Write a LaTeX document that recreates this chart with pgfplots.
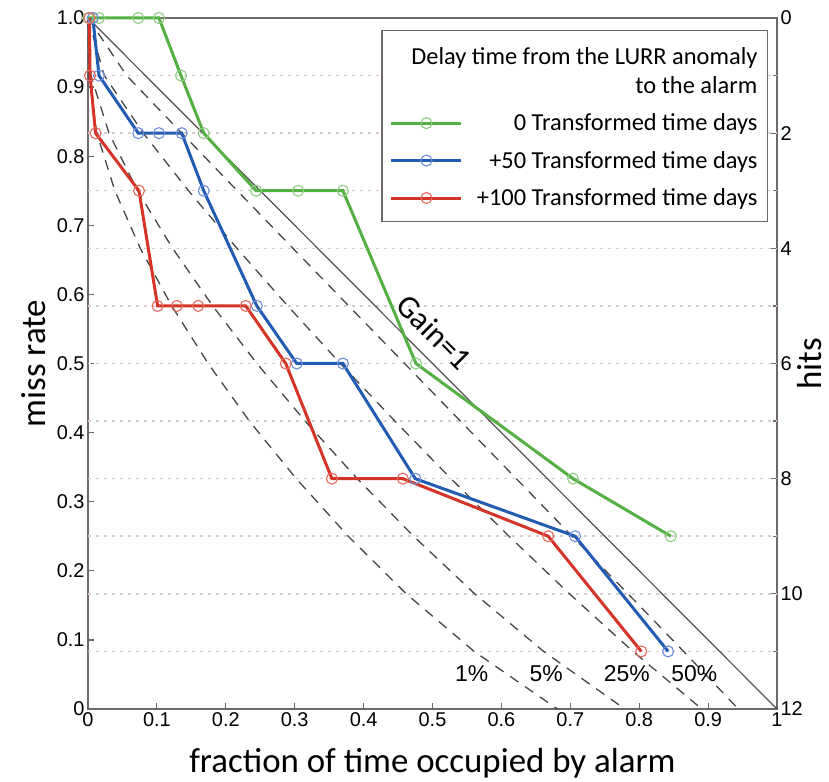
\documentclass[border=0pt]{standalone}
\usepackage{fontspec}
\setmainfont{Carlito}
\newfontfamily\ticksfont{Liberation Sans}
\usepackage{pgfplots}
\pgfplotsset{compat=1.18}
\definecolor{cgreen}{RGB}{84,176,66}
\definecolor{cblue}{RGB}{34,92,178}
\definecolor{cred}{RGB}{212,52,40}
\definecolor{mgreen}{RGB}{140,205,130}
\definecolor{mblue}{RGB}{110,140,215}
\definecolor{mred}{RGB}{230,105,95}
\definecolor{caxis}{RGB}{110,104,104}
\definecolor{cgrid}{RGB}{218,204,204}
\definecolor{cdash}{RGB}{70,70,70}
\definecolor{cgain}{RGB}{85,80,80}
\begin{document}
\begin{tikzpicture}
% ---------- right axis: hits ----------
\begin{axis}[
  scale only axis, width=689bp, height=691bp,
  xmin=0, xmax=1, ymin=0, ymax=12, y dir=reverse,
  hide x axis,
  ytick pos=right, yticklabel pos=right,
  ytick={0,2,4,6,8,10,12}, minor ytick={1,3,5,7,9,11},
  tick align=inside, major tick length=6bp, minor tick length=4bp,
  axis line style={caxis, line width=1.5bp},
  every tick/.style={caxis, line width=1.2bp},
  yticklabel style={font=\fontsize{20}{24}\selectfont\ticksfont},
  /pgf/number format/assume math mode=true,
  ylabel={hits},
  ylabel style={font=\fontsize{35}{40}\selectfont, at={(axis description cs:1.064,0.5)}, anchor=base},
]
\addplot[draw=none, forget plot] coordinates {(0,0) (1,12)};
\end{axis}
% ---------- main axis ----------
\begin{axis}[
  scale only axis, width=689bp, height=691bp,
  xmin=0, xmax=1, ymin=0, ymax=1,
  clip=false,
  xtick={0,0.1,0.2,0.3,0.4,0.5,0.6,0.7,0.8,0.9,1},
  xticklabels={0,0.1,0.2,0.3,0.4,0.5,0.6,0.7,0.8,0.9,1},
  ytick={0,0.1,0.2,0.3,0.4,0.5,0.6,0.7,0.8,0.9,1},
  yticklabels={0,0.1,0.2,0.3,0.4,0.5,0.6,0.7,0.8,0.9,1.0},
  xtick pos=bottom, ytick pos=left,
  tick align=inside, major tick length=6bp,
  axis line style={caxis, line width=1.5bp},
  every tick/.style={caxis, line width=1.2bp},
  tick label style={font=\fontsize{20}{24}\selectfont\ticksfont},
  /pgf/number format/assume math mode=true,
  xlabel={fraction of time occupied by alarm},
  ylabel={miss rate},
  xlabel style={font=\fontsize{35}{40}\selectfont, at={(axis description cs:0.5,-0.0926)}, anchor=base},
  ylabel style={font=\fontsize{35}{40}\selectfont, at={(axis description cs:-0.061,0.5)}, anchor=base},
  legend image code/.code={\draw[mark repeat=2,mark phase=2] plot coordinates {(0bp,0bp) (35bp,0bp) (70bp,0bp)};},
  legend style={at={(0.987,0.983)}, anchor=north east, draw=caxis, line width=1.2bp, fill=white,
    font=\fontsize{24.5}{29}\selectfont, row sep=15bp, inner xsep=8bp, inner ysep=12bp,
    /tikz/every odd column/.append style={column sep=12bp}},
  legend cell align=right,
]
\addlegendimage{empty legend}
\addlegendentry{\makebox[0pt][r]{\begin{tabular}[b]{@{}r@{}}Delay time from the LURR anomaly\\to the alarm\end{tabular}}}
% hit-level grid lines
\pgfplotsset{gridl/.style={cgrid, line width=1.5bp, dash pattern=on 3bp off 5bp, forget plot}}
\addplot[gridl] coordinates {(0,0.91667) (1,0.91667)};
\addplot[gridl] coordinates {(0,0.83333) (1,0.83333)};
\addplot[gridl] coordinates {(0,0.75) (1,0.75)};
\addplot[gridl] coordinates {(0,0.66667) (1,0.66667)};
\addplot[gridl] coordinates {(0,0.58333) (1,0.58333)};
\addplot[gridl] coordinates {(0,0.5) (1,0.5)};
\addplot[gridl] coordinates {(0,0.41667) (1,0.41667)};
\addplot[gridl] coordinates {(0,0.33333) (1,0.33333)};
\addplot[gridl] coordinates {(0,0.25) (1,0.25)};
\addplot[gridl] coordinates {(0,0.16667) (1,0.16667)};
\addplot[gridl] coordinates {(0,0.08333) (1,0.08333)};
% significance curves
\pgfplotsset{sig/.style={cdash, line width=1.3bp, dash pattern=on 10bp off 8bp, forget plot}}
\addplot[sig] coordinates {(0,1) (0.00084,0.91667) (0.01285,0.83333) (0.0390,0.75) (0.0759,0.66667) (0.1215,0.58333) (0.1744,0.5) (0.2342,0.41667) (0.3023,0.33333) (0.3777,0.25) (0.4619,0.16667) (0.5604,0.08333) (0.6813,0)};
\addplot[sig] coordinates {(0,1) (0.00426,0.91667) (0.0305,0.83333) (0.0719,0.75) (0.1228,0.66667) (0.1810,0.58333) (0.2452,0.5) (0.3151,0.41667) (0.3908,0.33333) (0.4726,0.25) (0.5613,0.16667) (0.6613,0.08333) (0.7791,0)};
\addplot[sig] coordinates {(0,1) (0.02369,0.91667) (0.0803,0.83333) (0.1459,0.75) (0.2162,0.66667) (0.2899,0.58333) (0.3663,0.5) (0.4454,0.41667) (0.5268,0.33333) (0.6111,0.25) (0.6988,0.16667) (0.7909,0.08333) (0.8909,0)};
\addplot[sig] coordinates {(0,1) (0.0561,0.91667) (0.1361,0.83333) (0.2167,0.75) (0.2975,0.66667) (0.3784,0.58333) (0.4595,0.5) (0.5405,0.41667) (0.6216,0.33333) (0.7027,0.25) (0.7838,0.16667) (0.8645,0.08333) (0.9439,0)};
% gain = 1
\addplot[cgain, line width=1.2bp, forget plot] coordinates {(0,1) (1,0)};
\node[rotate=-45, font=\fontsize{32}{36}\selectfont] at (axis cs:0.503,0.545) {Gain=1};
\node[font=\fontsize{23}{26}\selectfont\ticksfont] at (axis cs:0.557,0.051) {1\%};
\node[font=\fontsize{23}{26}\selectfont\ticksfont] at (axis cs:0.665,0.051) {5\%};
\node[font=\fontsize{23}{26}\selectfont\ticksfont] at (axis cs:0.782,0.051) {25\%};
\node[font=\fontsize{23}{26}\selectfont\ticksfont] at (axis cs:0.880,0.051) {50\%};
% series
\addplot[cgreen, line width=3bp, mark=o, mark size=5.5bp, mark options={mgreen, line width=1.1bp}] coordinates {
(0,1) (0.007,1) (0.016,1) (0.073,1) (0.103,1) (0.135,0.91667) (0.168,0.83333) (0.244,0.75) (0.305,0.75) (0.370,0.75) (0.476,0.5) (0.704,0.33333) (0.846,0.25)};
\addlegendentry{0 Transformed time days}
\addplot[cblue, line width=3bp, mark=o, mark size=5.5bp, mark options={mblue, line width=1.1bp}] coordinates {
(0.007,1) (0.016,0.91667) (0.073,0.83333) (0.103,0.83333) (0.136,0.83333) (0.168,0.75) (0.245,0.58333) (0.303,0.5) (0.370,0.5) (0.475,0.33333) (0.707,0.25) (0.842,0.08333)};
\addlegendentry{+50 Transformed time days}
\addplot[cred, line width=3bp, mark=o, mark size=5.5bp, mark options={mred, line width=1.1bp}] coordinates {
(0.002,1) (0.003,0.91667) (0.011,0.83333) (0.074,0.75) (0.101,0.58333) (0.129,0.58333) (0.160,0.58333) (0.229,0.58333) (0.287,0.5) (0.354,0.33333) (0.457,0.33333) (0.668,0.25) (0.803,0.08333)};
\addlegendentry{+100 Transformed time days}
\end{axis}
\path ([xshift=-88bp,yshift=-71bp]current axis.south west) rectangle ([xshift=52bp,yshift=18bp]current axis.north east);
\end{tikzpicture}
\end{document}
